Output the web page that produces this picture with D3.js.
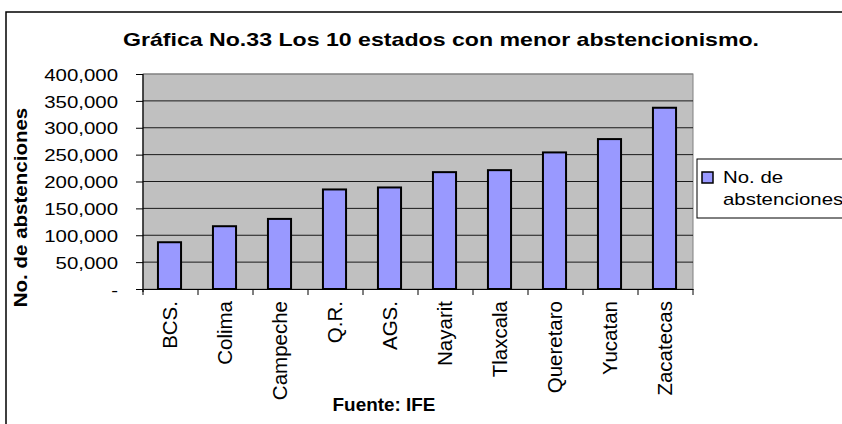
<!DOCTYPE html>
<html>
<head>
<meta charset="utf-8">
<script src="https://cdn.jsdelivr.net/npm/d3@7"></script>
<style>
  html, body { margin: 0; padding: 0; background: #fff; }
  svg { display: block; font-family: Arial, "Liberation Sans", sans-serif; }
</style>
</head>
<body>
<svg id="chart" width="842" height="424"></svg>
<script>
// Abstenciones por estado (fuente: IFE)
const estados = ["BCS.", "Colima", "Campeche", "Q.R.", "AGS.", "Nayarit", "Tlaxcala", "Queretaro", "Yucatan", "Zacatecas"];
const abstenciones = [87000, 116800, 130400, 185200, 188900, 217400, 221100, 254100, 278900, 337200];
const yTicks = [0, 50000, 100000, 150000, 200000, 250000, 300000, 350000, 400000];
const serieNombre = ["No. de", "abstenciones"];
const titulo = "Gráfica No.33 Los 10 estados con menor abstencionismo.";
const tituloY = "No. de abstenciones";
const tituloX = "Fuente: IFE";

const svg = d3.select("#chart");
const plot = { left: 143, top: 74, right: 693, bottom: 289 };

// widen glyphs along the reading direction
function stretch(sel, k) {
  sel.each(function () {
    const w = this.getComputedTextLength();
    d3.select(this).attr("textLength", w * k).attr("lengthAdjust", "spacingAndGlyphs");
  });
  return sel;
}

// outer chart frame (runs past the right and bottom edges)
svg.append("rect")
  .attr("x", 6).attr("y", 12).attr("width", 900).attr("height", 500)
  .attr("fill", "#fff").attr("stroke", "#000").attr("stroke-width", 1.5);

const x = d3.scaleBand().domain(estados).range([plot.left, plot.right]).padding(0);
const y = d3.scaleLinear().domain([0, 400000]).range([plot.bottom, plot.top]);

// plot area
svg.append("rect")
  .attr("x", plot.left).attr("y", plot.top)
  .attr("width", plot.right - plot.left).attr("height", plot.bottom - plot.top)
  .attr("fill", "#C0C0C0").attr("stroke", "#808080").attr("stroke-width", 1);

// gridlines
svg.append("g")
  .selectAll("line")
  .data(yTicks.filter(d => d > 0))
  .join("line")
  .attr("x1", plot.left).attr("x2", plot.right)
  .attr("y1", d => y(d)).attr("y2", d => y(d))
  .attr("stroke", d => d === 400000 ? "#808080" : "#1a1a1a").attr("stroke-width", 1);

// bars
const barW = x.bandwidth() * 0.42;
svg.append("g")
  .selectAll("rect")
  .data(estados.map((e, i) => ({ e, v: abstenciones[i] })))
  .join("rect")
  .attr("x", d => x(d.e) + (x.bandwidth() - barW) / 2 - 1)
  .attr("y", d => y(d.v))
  .attr("width", barW)
  .attr("height", d => y(0) - y(d.v))
  .attr("fill", "#9999FF").attr("stroke", "#000").attr("stroke-width", 2);

// y axis
const yAxis = d3.axisLeft(y).tickValues(yTicks).tickSize(7).tickPadding(0)
  .tickFormat(d => d === 0 ? "-" : d3.format(",")(d));
const gy = svg.append("g").attr("transform", `translate(${plot.left},0)`).call(yAxis);
gy.select(".domain").attr("stroke", "#000").attr("stroke-width", 1.2).attr("d", `M0,${plot.top}V${plot.bottom + 3}`);
gy.selectAll(".tick line").attr("stroke", "#000");
gy.selectAll(".tick text")
  .attr("x", -25).attr("dy", "0.36em")
  .attr("font-size", 17).attr("fill", "#000")
  .attr("font-family", "Arial, 'Liberation Sans', sans-serif")
  .call(stretch, 1.2);

// x axis
const xAxis = d3.axisBottom(x).tickSize(0).tickFormat("");
const gx = svg.append("g").attr("transform", `translate(0,${plot.bottom})`).call(xAxis);
gx.select(".domain").attr("stroke", "#000").attr("stroke-width", 1.2);
gx.append("g").selectAll("line")
  .data(d3.range(estados.length + 1))
  .join("line")
  .attr("x1", i => plot.left + i * x.step()).attr("x2", i => plot.left + i * x.step())
  .attr("y1", 0).attr("y2", 6).attr("stroke", "#000");

// category labels
svg.append("g")
  .selectAll("text")
  .data(estados)
  .join("text")
  .attr("transform", d => `translate(${x(d) + x.bandwidth() / 2 - 1},${plot.bottom + 12}) rotate(-90)`)
  .attr("text-anchor", "end").attr("dy", "0.36em")
  .attr("font-size", 20.5).attr("fill", "#000")
  .text(d => d);

// title
svg.append("text")
  .attr("x", 441).attr("y", 46).attr("text-anchor", "middle")
  .attr("font-size", 18.5).attr("font-weight", "bold").attr("fill", "#000")
  .text(titulo).call(stretch, 1.25);

// y-axis title
svg.append("text")
  .attr("transform", `translate(27,${(plot.top + plot.bottom) / 2 + 26}) rotate(-90)`)
  .attr("text-anchor", "middle")
  .attr("font-size", 18).attr("font-weight", "bold").attr("fill", "#000")
  .text(tituloY).call(stretch, 1.14);

// x-axis title
svg.append("text")
  .attr("x", 384).attr("y", 411).attr("text-anchor", "middle")
  .attr("font-size", 18).attr("font-weight", "bold").attr("fill", "#000")
  .text(tituloX).call(stretch, 1.05);

// legend (its right side runs past the frame)
const lg = svg.append("g");
lg.append("rect").attr("x", 697).attr("y", 159).attr("width", 200).attr("height", 59)
  .attr("fill", "#fff").attr("stroke", "#000").attr("stroke-width", 1);
lg.append("rect").attr("x", 702).attr("y", 172).attr("width", 11).attr("height", 11)
  .attr("fill", "#9999FF").attr("stroke", "#000").attr("stroke-width", 1.5);
lg.selectAll("text.leg")
  .data(serieNombre)
  .join("text").attr("class", "leg")
  .attr("x", 723).attr("y", (d, i) => 183 + i * 22)
  .attr("font-size", 17).attr("fill", "#000")
  .text(d => d).call(stretch, 1.2);
</script>
</body>
</html>
